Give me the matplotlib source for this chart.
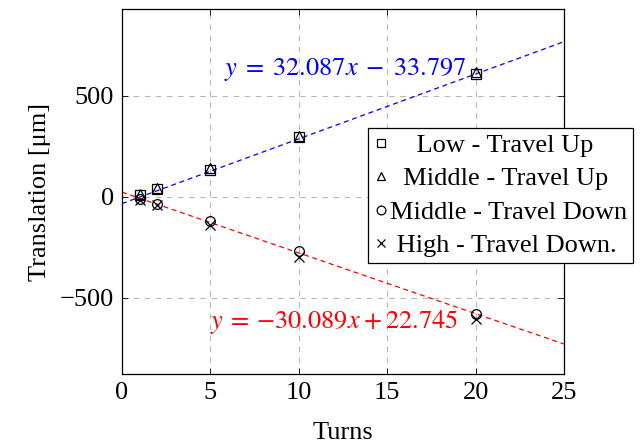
import numpy as np
import matplotlib.pyplot as plt

plt.rcParams['font.family'] = ['Liberation Serif', 'DejaVu Serif']
plt.rcParams['mathtext.fontset'] = 'stix'
plt.rcParams['font.size'] = 19

turns = [1, 2, 5, 10, 20]
low_up = [10, 40, 135, 295, 610]
mid_up = [15, 45, 145, 300, 620]
mid_down = [-10, -35, -120, -270, -580]
high_down = [-15, -40, -140, -300, -605]

up_fit = (32.087, -33.797)
down_fit = (-30.089, 22.745)

fig = plt.figure(figsize=(6.4, 4.45), dpi=100)
ax = fig.add_axes([0.1906, 0.1596, 0.6906, 0.8191])

xs = np.array([0, 25])
ax.plot(xs, up_fit[0] * xs + up_fit[1], color='blue', lw=0.9, ls=(0, (4, 3)), zorder=2)
ax.plot(xs, down_fit[0] * xs + down_fit[1], color='red', lw=0.9, ls=(0, (4, 3)), zorder=2)

mk = dict(color='black', mfc='none', mew=0.9, ls='none', ms=7, zorder=3)
ax.plot(turns, low_up, marker='s', label='    Low - Travel Up', **mk)
ax.plot(turns, mid_up, marker='^', label='  Middle - Travel Up', **mk)
ax.plot(turns, mid_down, marker='o', label='Middle - Travel Down', **mk)
ax.plot(turns, high_down, marker='x', label=' High - Travel Down.', **mk)

ax.text(12.65, 629, r'$y\;=\;32.087x\;-\;33.797$', color='blue', ha='center', va='center',
        fontsize=19)
ax.text(12.0, -619, r'$y\:=\:{-}30.089x\:+\:22.745$', color='red', ha='center', va='center',
        fontsize=19)

ax.set_xlim(0, 25)
ax.set_ylim(-878, 928)
ax.set_xticks([0, 5, 10, 15, 20, 25])
ax.set_yticks([-500, 0, 500])
ax.set_yticklabels(['\u2212500', '0', '500'])
ax.grid(True, color='#b8b8b8', ls=(0, (5, 5)), lw=0.8)
ax.tick_params(direction='in', length=4, top=True, right=True, width=0.6, pad=6)
for s in ax.spines.values():
    s.set_linewidth(0.9)

ax.set_xlabel('Turns', labelpad=13)
ax.set_ylabel('Translation [\u03bcm]', labelpad=6)

leg = ax.legend(loc='upper left', bbox_to_anchor=(0.575, 0.712), bbox_transform=fig.transFigure,
                borderaxespad=0, fancybox=False, edgecolor='black', framealpha=1,
                handlelength=0.6, handletextpad=0.05, borderpad=0.2, labelspacing=0.38,
                markerscale=0.9, fontsize=19)
leg.get_frame().set_linewidth(0.9)

fig.savefig('out.png', dpi=100)
